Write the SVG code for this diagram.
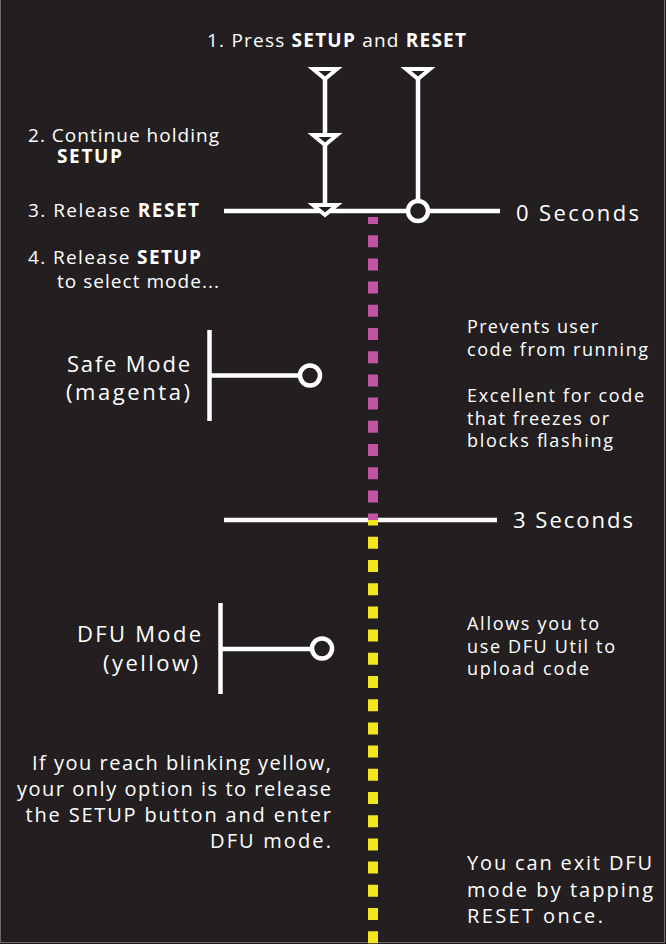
<svg xmlns="http://www.w3.org/2000/svg" width="666" height="944" viewBox="0 0 666 944">
<style>
.t{font-family:"Open Sans","Liberation Sans",sans-serif;fill:#ffffff}
.s19{font-size:19px}
.s18{font-size:18px}
.s20{font-size:20px}
.s22{font-size:22px}
.b{font-weight:700}
.ln{stroke:#ffffff;stroke-width:4.5;fill:none}
.tri{stroke:#ffffff;stroke-width:4;fill:#231f20;stroke-linejoin:miter}
.cir{stroke:#ffffff;stroke-width:4.5;fill:#231f20}
.dash{stroke-width:10;stroke-dasharray:12 11.2;fill:none}
</style>
<rect x="0" y="0" width="666" height="944" fill="#231f20"/>
<g id="frame" stroke="#8c8c8c" stroke-width="1" opacity="0.7">
<line x1="0.5" y1="0" x2="0.5" y2="943"/>
<line x1="664.5" y1="0" x2="664.5" y2="943"/>
<line x1="0" y1="942.5" x2="665" y2="942.5"/>
</g>
<g id="connectors">
<line class="ln" x1="325" y1="79" x2="325" y2="206" stroke-width="4"/>
<line class="ln" x1="418" y1="79" x2="418" y2="201" stroke-width="4"/>
</g>
<g id="timeline-0s">
<line class="ln" x1="224" y1="211" x2="500" y2="211"/>
<text class="t s22" x="516" y="221" textLength="123" lengthAdjust="spacing">0 Seconds</text>
</g>
<g id="timeline-3s">
<line class="ln" x1="224" y1="520" x2="497" y2="520"/>
<text class="t s22" x="513" y="528" textLength="120" lengthAdjust="spacing">3 Seconds</text>
</g>
<g id="setup-button">
<polygon class="tri" points="313,69 337,69 325,79"/>
<polygon class="tri" points="313,135 337,135 325,145"/>
<polygon class="tri" points="313,205 337,205 325,215"/>
</g>
<g id="reset-button">
<polygon class="tri" points="406,69 430,69 418,79"/>
<circle class="cir" cx="418" cy="211" r="10"/>
</g>
<g id="mode-indicator">
<line class="dash" x1="373" y1="217" x2="373" y2="520" stroke="#c155a3" stroke-dashoffset="5"/>
<line class="dash" x1="373" y1="520" x2="373" y2="944" stroke="#f4e61c" stroke-dashoffset="6.4"/>
</g>
<g id="steps">
<text class="t s19" x="207" y="47" textLength="259" lengthAdjust="spacing">1. Press <tspan class="b">SETUP</tspan> and <tspan class="b">RESET</tspan></text>
<text class="t s19" x="28" y="142" textLength="191" lengthAdjust="spacing">2. Continue holding</text>
<text class="t s19 b" x="57" y="163" textLength="65" lengthAdjust="spacing">SETUP</text>
<text class="t s19" x="28" y="217" textLength="171" lengthAdjust="spacing">3. Release <tspan class="b">RESET</tspan></text>
<text class="t s19" x="28" y="264" textLength="173" lengthAdjust="spacing">4. Release <tspan class="b">SETUP</tspan></text>
<text class="t s19" x="57" y="288" textLength="162" lengthAdjust="spacing">to select mode...</text>
</g>
<g id="safe-mode">
<line class="ln" x1="209.5" y1="330" x2="209.5" y2="421" stroke-width="5"/>
<line class="ln" x1="209" y1="375.5" x2="300" y2="375.5" stroke-width="4"/>
<circle class="cir" cx="310" cy="375.5" r="10"/>
<text class="t s22" x="67" y="372" textLength="123" lengthAdjust="spacing">Safe Mode</text>
<text class="t s22" x="66" y="400" textLength="124" lengthAdjust="spacing">(magenta)</text>
</g>
<g id="safe-mode-info">
<text class="t s18" x="467" y="333" textLength="131" lengthAdjust="spacing">Prevents user</text>
<text class="t s18" x="467" y="356" textLength="181" lengthAdjust="spacing">code from running</text>
<text class="t s18" x="467" y="402" textLength="177" lengthAdjust="spacing">Excellent for code</text>
<text class="t s18" x="467" y="425" textLength="142" lengthAdjust="spacing">that freezes or</text>
<text class="t s18" x="467" y="447" textLength="146" lengthAdjust="spacing">blocks flashing</text>
</g>
<g id="dfu-mode">
<line class="ln" x1="220.5" y1="603" x2="220.5" y2="694" stroke-width="5"/>
<line class="ln" x1="220" y1="649" x2="312" y2="649" stroke-width="4"/>
<circle class="cir" cx="322" cy="648.5" r="10"/>
<text class="t s22" x="77" y="642" textLength="124" lengthAdjust="spacing">DFU Mode</text>
<text class="t s22" x="103" y="671" textLength="95" lengthAdjust="spacing">(yellow)</text>
</g>
<g id="dfu-mode-info">
<text class="t s18" x="467" y="630" textLength="132" lengthAdjust="spacing">Allows you to</text>
<text class="t s18" x="467" y="653" textLength="148" lengthAdjust="spacing">use DFU Util to</text>
<text class="t s18" x="467" y="675" textLength="122" lengthAdjust="spacing">upload code</text>
</g>
<g id="blinking-note">
<text class="t s20" x="32" y="770" textLength="299" lengthAdjust="spacing">If you reach blinking yellow,</text>
<text class="t s20" x="17" y="796" textLength="314" lengthAdjust="spacing">your only option is to release</text>
<text class="t s20" x="25.5" y="822" textLength="305.5" lengthAdjust="spacing">the SETUP button and enter</text>
<text class="t s20" x="210" y="848" textLength="121" lengthAdjust="spacing">DFU mode.</text>
</g>
<g id="exit-note">
<text class="t s20" x="467" y="870" textLength="185" lengthAdjust="spacing">You can exit DFU</text>
<text class="t s20" x="467" y="897" textLength="186" lengthAdjust="spacing">mode by tapping</text>
<text class="t s20" x="467" y="923" textLength="136" lengthAdjust="spacing">RESET once.</text>
</g>
</svg>
